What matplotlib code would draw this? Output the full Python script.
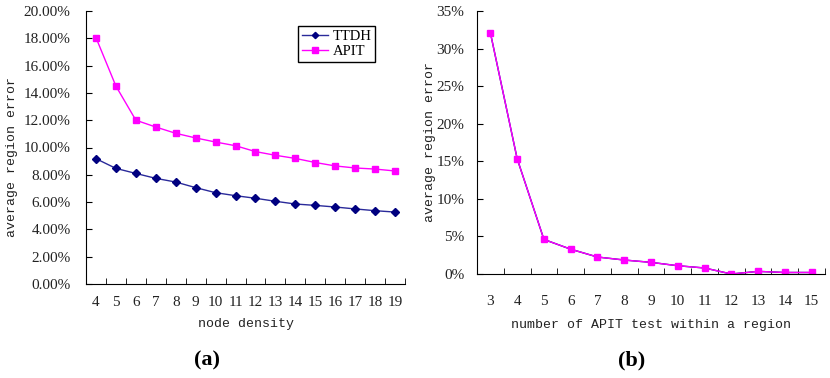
import matplotlib
matplotlib.use("Agg")
import matplotlib.pyplot as plt
from matplotlib.ticker import FuncFormatter, FixedLocator

# data
density = [4, 5, 6, 7, 8, 9, 10, 11, 12, 13, 14, 15, 16, 17, 18, 19]
ttdh = [9.18, 8.47, 8.10, 7.74, 7.47, 7.06, 6.69, 6.47, 6.28, 6.06, 5.86, 5.76, 5.64, 5.50, 5.37, 5.27]
apit = [18.05, 14.5, 12.0, 11.5, 11.04, 10.7, 10.4, 10.13, 9.7, 9.43, 9.2, 8.9, 8.65, 8.5, 8.42, 8.28]

n_tests = [3, 4, 5, 6, 7, 8, 9, 10, 11, 12, 13, 14, 15]
apit_tests = [32.1, 15.35, 4.6, 3.3, 2.26, 1.86, 1.55, 1.1, 0.8, 0.0, 0.35, 0.2, 0.2]

serif = "Liberation Serif"
mono = "Liberation Mono"
navy = "#000080"
magenta = "#FF00FF"
txt = "#222222"

fig = plt.figure(figsize=(8.3, 3.78), dpi=100)
ax1 = fig.add_axes([86/830, 94/378, 319/830, 273/378])
ax2 = fig.add_axes([477/830, 104/378, 348/830, 263/378])


def style(ax, ncat, xpad, ypad):
    for s in ["top", "right"]:
        ax.spines[s].set_visible(False)
    ax.set_xlim(-0.5, ncat - 0.5)
    ax.xaxis.set_major_locator(FixedLocator(range(ncat)))
    ax.xaxis.set_minor_locator(FixedLocator([i - 0.5 for i in range(ncat + 1)]))
    ax.tick_params(axis="x", which="major", length=0, pad=xpad)
    ax.tick_params(axis="x", which="minor", length=4, direction="in")
    ax.tick_params(axis="y", length=4, direction="in", pad=ypad)
    for lab in ax.get_xticklabels() + ax.get_yticklabels():
        lab.set_fontfamily(serif)
        lab.set_fontsize(11)
        lab.set_color(txt)


# (a)
x1 = range(len(density))
ax1.plot(x1, ttdh, color="#2a2a9a", lw=1, marker="D", ms=4, mfc=navy, mec=navy, label="TTDH")
ax1.plot(x1, apit, color=magenta, lw=1, marker="s", ms=5, mfc=magenta, mec=magenta, label="APIT")
ax1.set_ylim(0, 20)
ax1.set_yticks(range(0, 21, 2))
ax1.yaxis.set_major_formatter(FuncFormatter(lambda v, p: f"{v:.2f}%"))
ax1.set_xticks(list(x1))
ax1.set_xticklabels([str(d) for d in density])
style(ax1, len(density), 9, 11)
ax1.set_xlabel("node density", fontfamily=mono, fontsize=9.5, labelpad=6, color=txt)
ax1.set_ylabel("average region error", fontfamily=mono, fontsize=9.5, color=txt)
ax1.yaxis.set_label_coords(-0.212, 0.465)
leg = ax1.legend(loc="upper left", bbox_to_anchor=(0.665, 0.945), borderaxespad=0,
                 fancybox=False, edgecolor="black", framealpha=1, borderpad=0.25,
                 handlelength=1.8, handletextpad=0.3, labelspacing=0.15, markerscale=0.8,
                 prop={"family": serif, "size": 10.5})
leg.get_frame().set_linewidth(1.0)

# (b)
x2 = range(len(n_tests))
ax2.plot(x2, apit_tests, color=navy, lw=1, marker="D", ms=3, mfc=navy, mec=navy)
ax2.plot(x2, apit_tests, color=magenta, lw=1, marker="s", ms=5, mfc=magenta, mec=magenta)
ax2.set_ylim(0, 35)
ax2.set_yticks(range(0, 36, 5))
ax2.yaxis.set_major_formatter(FuncFormatter(lambda v, p: f"{v:.0f}%"))
ax2.set_xticks(list(x2))
ax2.set_xticklabels([str(n) for n in n_tests])
style(ax2, len(n_tests), 15, 9)
ax2.set_xlabel("number of APIT test within a region", fontfamily=mono, fontsize=9.5,
               labelpad=8, color=txt)
ax2.set_ylabel("average region error", fontfamily=mono, fontsize=9.5, color=txt)
ax2.yaxis.set_label_coords(-0.118, 0.5)

fig.text(207/830, 1 - 360/378, "(a)", ha="center", va="center",
         fontfamily=serif, fontsize=16, fontweight="bold")
fig.text(632/830, 1 - 360/378, "(b)", ha="center", va="center",
         fontfamily=serif, fontsize=16, fontweight="bold")

fig.savefig("out.png", dpi=100)
